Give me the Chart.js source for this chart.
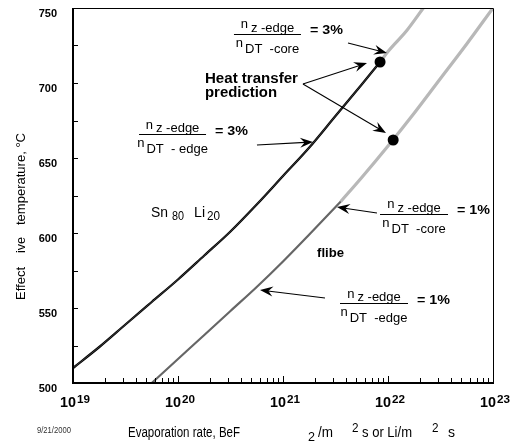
<!DOCTYPE html>
<html><head><meta charset="utf-8">
<script src="https://cdn.jsdelivr.net/npm/chart.js@4.4.0/dist/chart.umd.min.js"></script>
<style>html,body{margin:0;padding:0;background:#fff}canvas{display:block}</style>
</head><body>
<canvas id="c" width="510" height="444"></canvas>
<script>
// ---- data ----
// Sn80Li20, below the heat-transfer prediction (dark) and above it (light)
const snliRate      = [1.0e19, 1.78e19, 3.16e19, 5.62e19, 1.0e20, 1.78e20, 3.16e20, 5.62e20, 1.0e21, 1.78e21, 3.16e21, 5.62e21, 8.4e21];
const snliTemp      = [510, 524, 539, 554, 569, 585, 601, 619, 638, 657, 678, 699, 714];
const snliUpperRate = [8.4e21, 1.0e22, 1.51e22, 2.17e22];
const snliUpperTemp = [714, 721, 735, 750];
// flibe
const flibeRate      = [5.62e19, 1.0e20, 1.78e20, 3.16e20, 5.62e20, 1.0e21, 1.78e21, 3.55e21];
const flibeTemp      = [500, 516, 532, 548, 564, 581, 599, 621];
const flibeUpperRate = [3.55e21, 5.62e21, 1.0e22, 1.78e22, 3.16e22, 5.62e22, 1.0e23];
const flibeUpperTemp = [621, 637, 658, 680, 703, 726, 750];
// heat transfer prediction points
const predRate = [8.4e21, 1.12e22];
const predTemp = [714, 662];
// axes
const yTickLabels = [500, 550, 600, 650, 700, 750];
const xTickExponents = [19, 20, 21, 22, 23];

const pts = (xs, ys) => xs.map((v, i) => ({x: v, y: ys[i]}));
const FONT = '"Liberation Sans", Arial, Helvetica, sans-serif';

function fitText(ctx, s, x, y, font, targetW, align) {
  ctx.save();
  ctx.font = font;
  const w = ctx.measureText(s).width;
  const sx = targetW ? targetW / w : 1;
  ctx.translate(x, y);
  ctx.scale(sx, 1);
  ctx.textAlign = align || 'left';
  ctx.textBaseline = 'alphabetic';
  ctx.fillText(s, 0, 0);
  ctx.restore();
  return w * sx;
}

function arrow(ctx, x1, y1, x2, y2) {
  const dx = x2 - x1, dy = y2 - y1, L = Math.hypot(dx, dy);
  const ux = dx / L, uy = dy / L, nx = -uy, ny = ux;
  const hl = 13, hw = 5;
  ctx.beginPath();
  ctx.moveTo(x1, y1);
  ctx.lineTo(x2 - ux * hl * 0.6, y2 - uy * hl * 0.6);
  ctx.lineWidth = 1.1;
  ctx.strokeStyle = '#000';
  ctx.stroke();
  ctx.beginPath();
  ctx.moveTo(x2, y2);
  ctx.lineTo(x2 - ux * hl + nx * hw, y2 - uy * hl + ny * hw);
  ctx.lineTo(x2 - ux * hl * 0.65, y2 - uy * hl * 0.65);
  ctx.lineTo(x2 - ux * hl - nx * hw, y2 - uy * hl - ny * hw);
  ctx.closePath();
  ctx.fillStyle = '#000';
  ctx.fill();
}

// annotations, positions in data units [log10(rate), temperature]
const fractions = [
  {at: [20.533, 732.7], w: 67, num: 'z -edge', den: 'DT  -core', rhs: '= 3%'},
  {at: [19.629, 666.0], w: 67, num: 'z -edge', den: 'DT  - edge', rhs: '= 3%'},
  {at: [21.924, 612.7], w: 68, num: 'z -edge', den: 'DT  -core', rhs: '= 1%'},
  {at: [21.543, 553.3], w: 68, num: 'z -edge', den: 'DT  -edge', rhs: '= 1%'}
];
const arrows = [
  {from: [21.619, 726.7], to: [21.990, 720.0]},
  {from: [21.190, 699.3], to: [21.800, 713.3]},
  {from: [21.190, 699.3], to: [21.981, 666.7]},
  {from: [20.752, 658.7], to: [21.286, 660.7]},
  {from: [21.895, 613.3], to: [21.514, 617.3]},
  {from: [21.400, 556.7], to: [20.781, 562.0]}
];

const decor = {
  id: 'decor',
  afterDatasetsDraw(chart) {
    const ctx = chart.ctx, xs = chart.scales.x, ys = chart.scales.y, a = chart.chartArea;
    const P = (p) => [xs.getPixelForValue(Math.pow(10, p[0])), ys.getPixelForValue(p[1])];
    ctx.save();
    ctx.fillStyle = '#000';
    ctx.strokeStyle = '#000';
    // frame
    ctx.lineWidth = 1;
    ctx.beginPath();
    ctx.moveTo(a.left, a.top + 0.5); ctx.lineTo(a.right + 0.5, a.top + 0.5);
    ctx.lineTo(a.right + 0.5, a.bottom);
    ctx.stroke();
    ctx.lineWidth = 2;
    ctx.beginPath();
    ctx.moveTo(a.left, a.top); ctx.lineTo(a.left, a.bottom); ctx.lineTo(a.right + 1, a.bottom);
    ctx.stroke();
    // y ticks (inside)
    ctx.lineWidth = 1;
    for (let t = 500; t <= 750; t += 25) {
      const y = Math.round(ys.getPixelForValue(t)) + 0.5;
      ctx.beginPath(); ctx.moveTo(a.left, y); ctx.lineTo(a.left + 5, y); ctx.stroke();
    }
    // x ticks (inside)
    for (let d = 19; d <= 23; d++) {
      for (let m = 1; m <= 9; m++) {
        const v = m * Math.pow(10, d);
        if (v > 1.0001e23) break;
        const x = Math.round(xs.getPixelForValue(v)) + 0.5;
        const len = m === 1 ? 7 : 5;
        ctx.beginPath(); ctx.moveTo(x, a.bottom); ctx.lineTo(x, a.bottom - len); ctx.stroke();
      }
    }
    // y tick labels
    yTickLabels.forEach(t => {
      fitText(ctx, String(t), a.left - 16, ys.getPixelForValue(t) + 8.5, 'bold 11px ' + FONT, 0, 'right');
    });
    // x tick labels 10^n
    xTickExponents.forEach(e => {
      const cx = xs.getPixelForValue(Math.pow(10, e));
      const w1 = 16, w2 = 13;
      const x0 = cx - (w1 + w2 + 1) / 2 + 2;
      fitText(ctx, '10', x0, a.bottom + 24, 'bold 14px ' + FONT, w1);
      fitText(ctx, String(e), x0 + w1 + 1, a.bottom + 20, 'bold 11px ' + FONT, w2);
    });
    // axis titles
    const yb = [['Effect', 300, 33], ['ive', 253, 16], ['temperature, \u00B0C', 225, 92]];
    yb.forEach(([s, y, w]) => {
      ctx.save(); ctx.translate(25, y); ctx.rotate(-Math.PI / 2);
      fitText(ctx, s, 0, 0, '13.5px ' + FONT, w);
      ctx.restore();
    });
    fitText(ctx, 'Evaporation rate, BeF', 128, 437, '14px ' + FONT, 112);
    fitText(ctx, '2', 308, 441, '13px ' + FONT, 7);
    fitText(ctx, '/m', 318, 437, '14px ' + FONT, 15);
    fitText(ctx, '2', 352, 432, '13px ' + FONT, 6.5);
    fitText(ctx, 's or Li/m', 362, 437, '14px ' + FONT, 50);
    fitText(ctx, '2', 432, 432, '13px ' + FONT, 6.5);
    fitText(ctx, 's', 448, 437, '14px ' + FONT, 7);
    ctx.fillStyle = '#333';
    fitText(ctx, '9/21/2000', 37, 433, '9px ' + FONT, 34);
    ctx.fillStyle = '#000';

    // fractions
    fractions.forEach(f => {
      const [x0, y0] = P(f.at);
      ctx.lineWidth = 1;
      ctx.beginPath(); ctx.moveTo(x0, Math.round(y0) + 0.5); ctx.lineTo(x0 + f.w, Math.round(y0) + 0.5); ctx.stroke();
      const cx = x0 + f.w / 2;
      ctx.font = '13px ' + FONT;
      const wn = ctx.measureText('n').width;
      const wNum = ctx.measureText(f.num).width;
      const wDen = ctx.measureText(f.den).width;
      let sx = cx - (wn + 3 + wNum) / 2;
      fitText(ctx, 'n', sx, y0 - 5.5, '13px ' + FONT);
      fitText(ctx, f.num, sx + wn + 3, y0 - 2, '13px ' + FONT);
      sx = cx - (wn + 2 + wDen) / 2;
      fitText(ctx, 'n', sx, y0 + 13, '13px ' + FONT);
      fitText(ctx, f.den, sx + wn + 2, y0 + 19, '13px ' + FONT);
      fitText(ctx, f.rhs, x0 + f.w + 9, y0 + 0.5, 'bold 13px ' + FONT, 33);
    });
    // arrows
    arrows.forEach(r => {
      const [x1, y1] = P(r.from), [x2, y2] = P(r.to);
      arrow(ctx, x1, y1, x2, y2);
    });
    // labels
    let [hx, hy] = P([20.257, 700.2]);
    fitText(ctx, 'Heat transfer', hx, hy, 'bold 14px ' + FONT, 93);
    fitText(ctx, 'prediction', hx, hy + 14.5, 'bold 14px ' + FONT, 72);
    let [sxp, syp] = P([19.743, 610.5]);
    fitText(ctx, 'Sn', sxp, syp, '14px ' + FONT, 17);
    fitText(ctx, '80', sxp + 21, syp + 2.5, '12px ' + FONT, 12);
    fitText(ctx, 'Li', sxp + 43, syp, '14px ' + FONT, 11);
    fitText(ctx, '20', sxp + 56, syp + 2.5, '12px ' + FONT, 13);
    let [fx, fy] = P([21.324, 584.2]);
    fitText(ctx, 'flibe', fx, fy, 'bold 13px ' + FONT, 27);
    ctx.restore();
  }
};

new Chart(document.getElementById('c'), {
  type: 'scatter',
  data: {
    datasets: [
      {label: 'Heat transfer prediction', data: pts(predRate, predTemp), showLine: false,
       pointRadius: 5.5, pointBackgroundColor: '#000', pointBorderColor: '#000', pointBorderWidth: 0, order: 0},
      {label: 'Sn80Li20 core', data: pts(snliRate, snliTemp), showLine: true, borderColor: '#7a7a7a', borderWidth: 0.5,
       pointRadius: 0, cubicInterpolationMode: 'monotone', order: 1},
      {label: 'Sn80Li20', data: pts(snliRate, snliTemp), showLine: true, borderColor: '#000', borderWidth: 2.3,
       pointRadius: 0, cubicInterpolationMode: 'monotone', order: 2},
      {label: 'flibe', data: pts(flibeRate, flibeTemp), showLine: true, borderColor: '#666666', borderWidth: 2.2,
       pointRadius: 0, cubicInterpolationMode: 'monotone', order: 4},
      {label: 'Sn80Li20 upper', data: pts(snliUpperRate, snliUpperTemp), showLine: true, borderColor: '#b8b8b8', borderWidth: 3.2,
       pointRadius: 0, cubicInterpolationMode: 'monotone', order: 5},
      {label: 'flibe upper', data: pts(flibeUpperRate, flibeUpperTemp), showLine: true, borderColor: '#b8b8b8', borderWidth: 3.2,
       pointRadius: 0, cubicInterpolationMode: 'monotone', order: 6}
    ]
  },
  options: {
    responsive: false,
    animation: false,
    devicePixelRatio: 1,
    layout: {padding: {left: 73, top: 8, right: 17, bottom: 61}},
    plugins: {legend: {display: false}, tooltip: {enabled: false}, title: {display: false}},
    scales: {
      x: {type: 'logarithmic', min: 1e19, max: 1e23, display: false},
      y: {type: 'linear', min: 500, max: 750, display: false}
    }
  },
  plugins: [decor]
});
</script>
</body></html>
